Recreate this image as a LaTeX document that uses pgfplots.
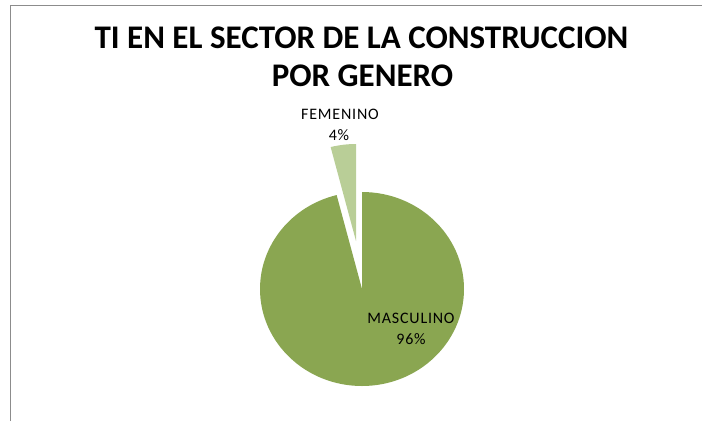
\documentclass[border=0pt]{standalone}
\usepackage{pgfplots}
\pgfplotsset{compat=1.18}
\usepackage{fontspec}
\setmainfont{Carlito}
\definecolor{masc}{HTML}{8AA651}
\definecolor{fem}{HTML}{B9CE97}
\definecolor{frame}{HTML}{8C8C8C}
% values (percent)
\def\vMasc{96}
\def\vFem{4}
\begin{document}
\begin{tikzpicture}
\begin{axis}[
  hide axis, scale only axis,
  width=702pt, height=421pt,
  xmin=0, xmax=702, ymin=0, ymax=421,
  y dir=reverse, clip=false]
% frame
\draw[frame, line width=1.5pt] (axis cs:10.5,421) -- (axis cs:10.5,5.5) -- (axis cs:702,5.5);
% big slice (MASCULINO), from 12 o'clock clockwise
\pgfmathsetmacro{\endM}{90-3.6*\vMasc}
\fill[masc] (axis cs:362,289) -- ++(0,97pt)
  arc[start angle=90, end angle=\endM, x radius=102pt, y radius=97pt] -- cycle;
% exploded small slice (FEMENINO)
\pgfmathsetmacro{\endF}{90+3.6*\vFem}
\fill[fem] (axis cs:356,241) -- ++(0,97pt)
  arc[start angle=90, end angle=\endF, x radius=102pt, y radius=97pt] -- cycle;
% title
\node[font=\bfseries\fontsize{33}{36}\selectfont, anchor=base] at (axis cs:361.5,48.5)
  {TI EN EL SECTOR DE LA CONSTRUCCION};
\node[font=\bfseries\fontsize{33}{36}\selectfont, anchor=base] at (axis cs:362.5,86.5)
  {POR GENERO};
% labels
\node[font=\fontsize{16}{20}\selectfont\addfontfeature{LetterSpace=5}, anchor=base] at (axis cs:340,119.5) {FEMENINO};
\node[font=\fontsize{16}{20}\selectfont\addfontfeature{LetterSpace=5}, anchor=base] at (axis cs:339,140) {4\%};
\node[font=\fontsize{16}{20}\selectfont\addfontfeature{LetterSpace=5}, anchor=base] at (axis cs:411,323.5) {MASCULINO};
\node[font=\fontsize{16}{20}\selectfont\addfontfeature{LetterSpace=5}, anchor=base] at (axis cs:411,344) {96\%};
\end{axis}
\pgfresetboundingbox
\path (0,0) rectangle (702pt,421pt);
\end{tikzpicture}
\end{document}
